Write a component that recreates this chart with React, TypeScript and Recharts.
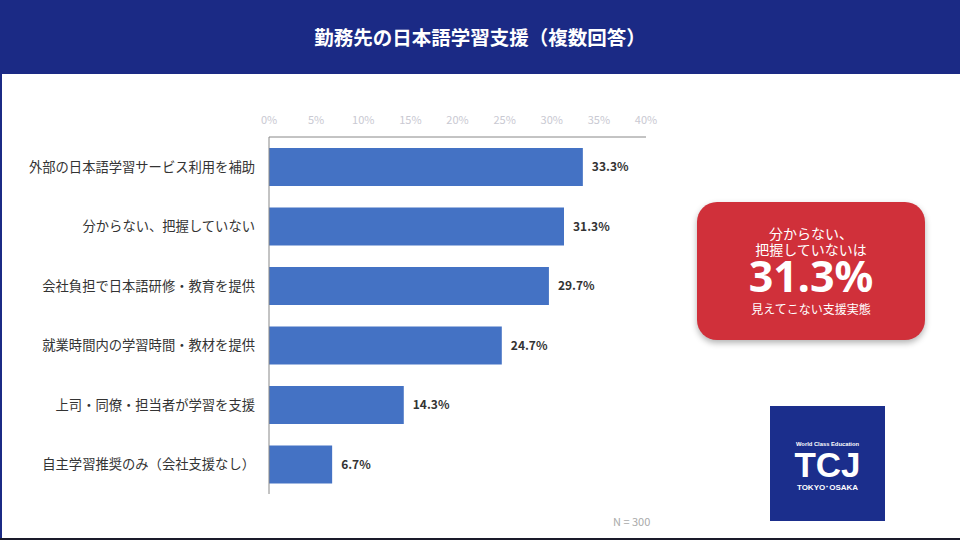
import { BarChart, Bar, XAxis, YAxis, LabelList } from 'recharts';

const categories = [
  '外部の日本語学習サービス利用を補助',
  '分からない、把握していない',
  '会社負担で日本語研修・教育を提供',
  '就業時間内の学習時間・教材を提供',
  '上司・同僚・担当者が学習を支援',
  '自主学習推奨のみ（会社支援なし）',
];
const values = [33.3, 31.3, 29.7, 24.7, 14.3, 6.7];
const tickValues = [0, 5, 10, 15, 20, 25, 30, 35, 40];

const data = categories.map((name, i) => ({ name, value: values[i] }));

const FONT = '"Noto Sans CJK JP", "Noto Sans", sans-serif';
const LOGO_FONT = '"Liberation Sans", Arial, sans-serif';
const NAVY = '#1b2a85';

const XTick = ({ x, payload }: any) => (
  <text x={x} y={124} textAnchor="middle" fontSize={11} fill="#c9c9d2" fontFamily={FONT}>
    {payload.value}%
  </text>
);

const YTick = ({ y, payload }: any) => (
  <text x={255} y={y} dy={5} textAnchor="end" fontSize={13.3} fill="#333" fontFamily={FONT}>
    {payload.value}
  </text>
);

export default function App() {
  return (
    <div
      style={{
        position: 'absolute',
        left: 0,
        top: 0,
        width: 960,
        height: 540,
        background: '#fff',
        fontFamily: FONT,
        overflow: 'hidden',
      }}
    >
      <div
        style={{
          position: 'absolute',
          left: 0,
          top: 0,
          width: 960,
          height: 74,
          background: NAVY,
          color: '#fff',
          fontSize: 19.5,
          fontWeight: 700,
          textAlign: 'center',
          lineHeight: '74px',
        }}
      >
        勤務先の日本語学習支援（複数回答）
      </div>
      <div style={{ position: 'absolute', left: 0, top: 74, width: 2, height: 466, background: NAVY }} />
      <div style={{ position: 'absolute', left: 0, top: 538, width: 960, height: 2, background: '#1a1a2a' }} />

      <div style={{ position: 'absolute', left: 0, top: 0 }}>
        <BarChart
          width={700}
          height={540}
          data={data}
          layout="vertical"
          margin={{ top: 0, right: 54, left: 0, bottom: 46 }}
          barCategoryGap={21}
        >
          <XAxis
            type="number"
            orientation="top"
            domain={[0, 40]}
            ticks={tickValues}
            height={137}
            tickLine={false}
            axisLine={{ stroke: '#888' }}
            tick={<XTick />}
            interval={0}
          />
          <YAxis
            type="category"
            dataKey="name"
            width={269}
            tickLine={false}
            axisLine={{ stroke: '#888' }}
            tick={<YTick />}
            interval={0}
          />
          <Bar dataKey="value" fill="#4472c4" barSize={38} isAnimationActive={false}>
            <LabelList
              dataKey="value"
              position="right"
              offset={9}
              formatter={(v: any) => `${Number(v).toFixed(1)}%`}
              style={{ fontSize: 12, fontWeight: 700, fill: '#333', fontFamily: FONT }}
            />
          </Bar>
        </BarChart>
      </div>

      <div
        style={{
          position: 'absolute',
          left: 697,
          top: 202,
          width: 228,
          height: 138,
          background: '#d0303a',
          borderRadius: 20,
          boxShadow: '0 3px 6px rgba(0,0,0,0.3)',
          color: '#fff',
          textAlign: 'center',
        }}
      >
        <div style={{ position: 'absolute', top: 23, width: '100%', fontSize: 14, lineHeight: '16px' }}>
          分からない、
          <br />
          把握していないは
        </div>
        <div
          style={{
            position: 'absolute',
            top: 59,
            width: '100%',
            fontSize: 43,
            fontWeight: 700,
            lineHeight: '30px',
            fontFamily: '"Noto Sans", sans-serif',
          }}
        >
          31.3%
        </div>
        <div style={{ position: 'absolute', top: 99, width: '100%', fontSize: 12, lineHeight: '16px' }}>
          見えてこない支援実態
        </div>
      </div>

      <div
        style={{
          position: 'absolute',
          left: 770,
          top: 406,
          width: 115,
          height: 115,
          background: '#1b2e8c',
          color: '#fff',
          textAlign: 'center',
          fontFamily: LOGO_FONT,
          fontWeight: 700,
        }}
      >
        <div style={{ position: 'absolute', top: 35, width: '100%', fontSize: 5.8, lineHeight: '6px' }}>
          World Class Education
        </div>
        <div style={{ position: 'absolute', top: 41, width: '100%', fontSize: 35, lineHeight: '35px' }}>TCJ</div>
        <div style={{ position: 'absolute', top: 78, width: '100%', fontSize: 8, lineHeight: '8px' }}>
          TOKYO･OSAKA
        </div>
      </div>

      <div style={{ position: 'absolute', left: 613, top: 513, fontSize: 11, color: '#aaa' }}>N = 300</div>
    </div>
  );
}
